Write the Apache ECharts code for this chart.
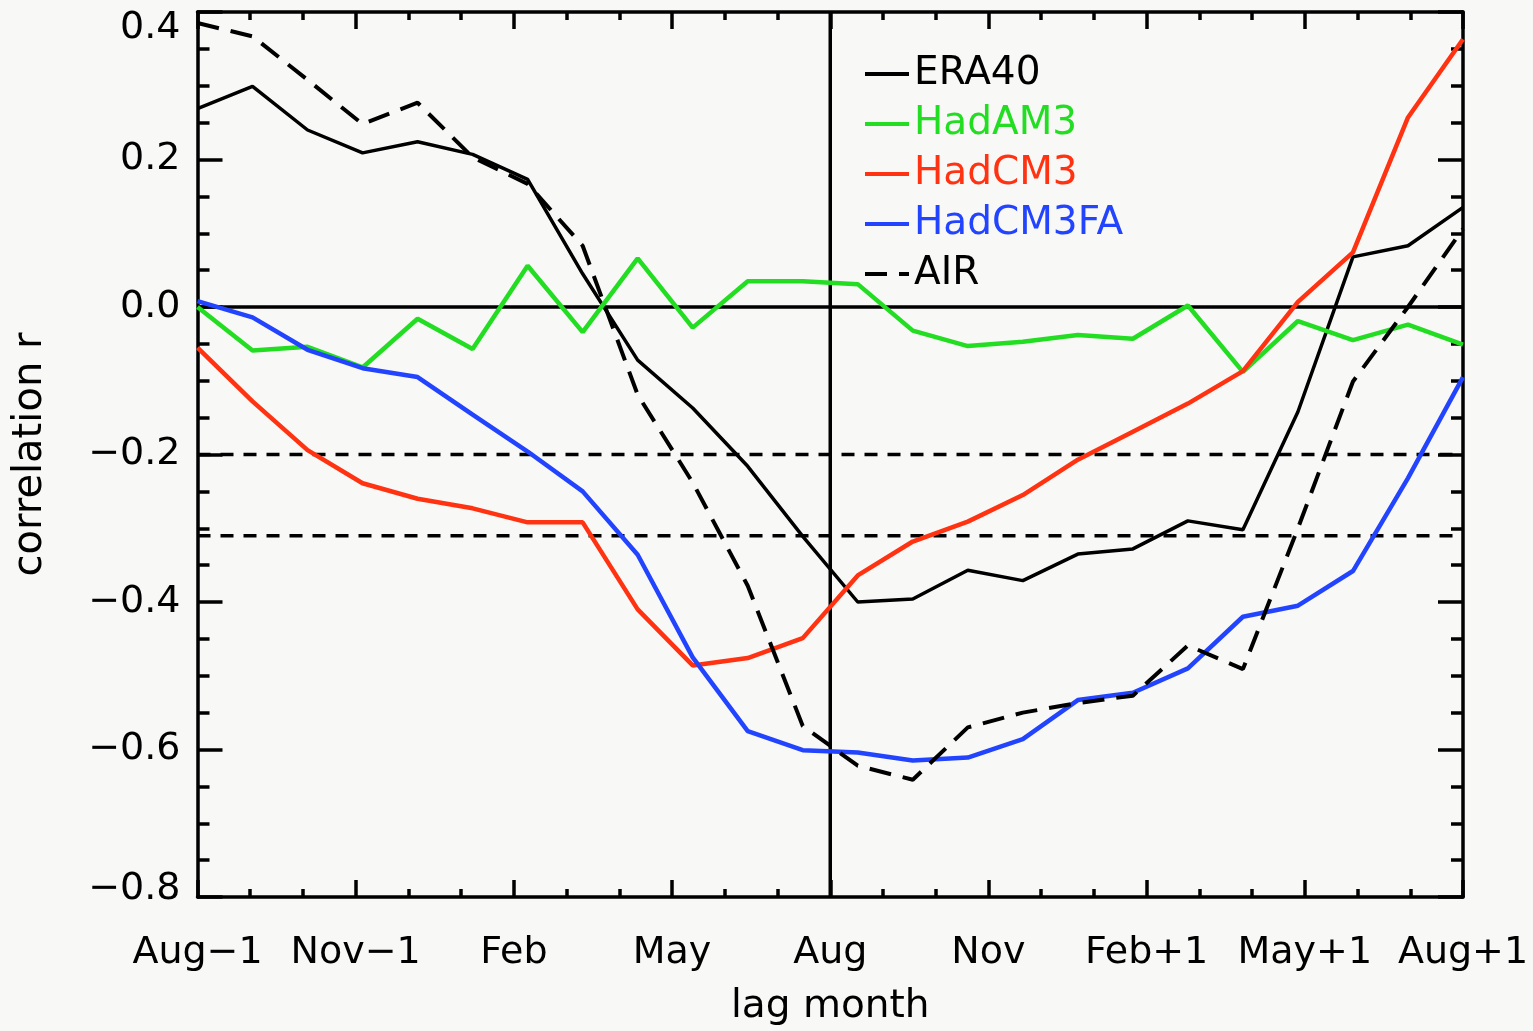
<!DOCTYPE html>
<html>
<head>
<meta charset="utf-8">
<script src="https://cdn.jsdelivr.net/npm/echarts@6/dist/echarts.min.js"></script>
<style>
  html, body { margin: 0; padding: 0; background: #f8f8f6; }
  #chart { width: 1533px; height: 1031px; }
</style>
</head>
<body>
<div id="chart"></div>
<script>
// ---- data ----
const lagTickLabels = ['Aug\u22121', 'Nov\u22121', 'Feb', 'May', 'Aug', 'Nov', 'Feb+1', 'May+1', 'Aug+1'];
const yTickLabels = ['\u22120.8', '\u22120.6', '\u22120.4', '\u22120.2', '0.0', '0.2', '0.4'];
const pointIndex = ['0','1','2','3','4','5','6','7','8','9','10','11','12','13','14','15','16','17','18','19','20','21','22','23'];

const era40    = [0.269, 0.299, 0.240, 0.209, 0.224, 0.207, 0.173, 0.045, -0.072, -0.137, -0.216, -0.311, -0.400, -0.396, -0.357, -0.371, -0.335, -0.328, -0.290, -0.302, -0.142, 0.068, 0.083, 0.135];
const hadam3   = [0.000, -0.059, -0.054, -0.082, -0.016, -0.057, 0.056, -0.034, 0.066, -0.028, 0.035, 0.035, 0.031, -0.032, -0.053, -0.047, -0.038, -0.043, 0.002, -0.088, -0.019, -0.045, -0.024, -0.051];
const hadcm3   = [-0.055, -0.128, -0.194, -0.239, -0.260, -0.273, -0.292, -0.292, -0.410, -0.486, -0.476, -0.449, -0.364, -0.318, -0.291, -0.255, -0.207, -0.169, -0.131, -0.087, 0.007, 0.074, 0.257, 0.363];
const hadcm3fa = [0.008, -0.014, -0.058, -0.083, -0.095, -0.146, -0.196, -0.250, -0.336, -0.475, -0.575, -0.601, -0.604, -0.615, -0.611, -0.586, -0.533, -0.523, -0.490, -0.420, -0.405, -0.358, -0.232, -0.095];
const air      = [0.385, 0.367, 0.308, 0.248, 0.277, 0.203, 0.167, 0.083, -0.119, -0.238, -0.378, -0.568, -0.622, -0.641, -0.570, -0.550, -0.537, -0.527, -0.459, -0.491, -0.300, -0.101, 0.000, 0.106];

const seriesNames = ['ERA40', 'HadAM3', 'HadCM3', 'HadCM3FA', 'AIR'];
const refLevels = [0, -0.2, -0.31];   // horizontal reference lines
const lagMarker = 12;                 // vertical line at Aug (lag 0)
const xRange = [0, 24];
const yRange = [-0.8, 0.4];

// ---- styles ----
const FONT = 'DejaVu Sans';
const colors = { ERA40: '#000000', HadAM3: '#22dd22', HadCM3: '#ff3311', HadCM3FA: '#2244ff', AIR: '#000000' };
const AXW = 3.5;

const chart = echarts.init(document.getElementById('chart'), null, { renderer: 'canvas' });

function xAxisCfg(extra) {
  return Object.assign({
    type: 'value', gridIndex: 0, min: xRange[0], max: xRange[1], interval: 3,
    axisLine: { show: true, onZero: false, lineStyle: { color: '#000', width: AXW } },
    axisTick: { show: true, inside: true, length: 17, lineStyle: { color: '#000', width: AXW } },
    minorTick: { show: true, splitNumber: 3, length: 8, lineStyle: { color: '#000', width: AXW } },
    splitLine: { show: false },
    minorSplitLine: { show: false }
  }, extra);
}
function yAxisCfg(extra) {
  return Object.assign({
    type: 'value', gridIndex: 0, min: yRange[0], max: yRange[1], interval: 0.2,
    axisLine: { show: true, onZero: false, lineStyle: { color: '#000', width: AXW } },
    axisTick: { show: true, inside: true, length: 25, lineStyle: { color: '#000', width: AXW } },
    minorTick: { show: true, splitNumber: 4, length: 12, lineStyle: { color: '#000', width: AXW } },
    splitLine: { show: false },
    minorSplitLine: { show: false }
  }, extra);
}

function refSeries(data, type) {
  return {
    type: 'line', xAxisIndex: 0, yAxisIndex: 0, data: data,
    symbol: 'none', silent: true, z: 1, animation: false,
    lineStyle: { color: '#000', width: 3.5, type: type },
    emphasis: { disabled: true }, tooltip: { show: false }
  };
}

const refLineSeries = [];
refLevels.forEach(function (lv) {
  refLineSeries.push(refSeries([[xRange[0], lv], [xRange[1], lv]], lv === 0 ? 'solid' : [13, 10]));
});
refLineSeries.push(refSeries([[lagMarker, yRange[0]], [lagMarker, yRange[1]]], 'solid'));

const dataSets = [era40, hadam3, hadcm3, hadcm3fa, air];
const dataSeries = seriesNames.map(function (name, i) {
  const isAir = name === 'AIR';
  const isEra = name === 'ERA40';
  return {
    name: name, type: 'line', xAxisIndex: 1, yAxisIndex: 0,
    data: dataSets[i], symbol: 'none', z: 3,
    lineStyle: { color: colors[name], width: isAir ? 4 : (isEra ? 3.5 : 4.5), type: isAir ? [22, 12] : 'solid' },
    itemStyle: { color: colors[name] },
    emphasis: { disabled: true }
  };
});

chart.setOption({
  animation: false,
  backgroundColor: '#f8f8f6',
  grid: { left: 197.5, right: 70, top: 12, bottom: 129.5, containLabel: false },
  legend: {
    orient: 'vertical', left: 863, top: 54, padding: 0,
    itemWidth: 44, itemHeight: 14, itemGap: 10,
    selectedMode: false,
    itemStyle: { color: 'transparent', borderColor: 'transparent', borderWidth: 0, opacity: 0 },
    lineStyle: { width: 4 },
    textStyle: { fontFamily: FONT, fontSize: 39, lineHeight: 40 },
    data: seriesNames.map(function (n) { return { name: n, textStyle: { color: colors[n] } }; })
  },
  xAxis: [
    xAxisCfg({
      position: 'bottom',
      name: 'lag month', nameLocation: 'middle', nameGap: 90,
      nameTextStyle: { fontFamily: FONT, fontSize: 39, color: '#000' },
      axisLabel: {
        show: true, margin: 37, fontFamily: FONT, fontSize: 38, color: '#000',
        showMinLabel: true, showMaxLabel: true,
        formatter: function (v) { return lagTickLabels[Math.round(v / 3)]; }
      }
    }),
    { type: 'category', gridIndex: 0, position: 'bottom', data: pointIndex, boundaryGap: false, show: false },
    xAxisCfg({ position: 'top', axisLabel: { show: false } })
  ],
  yAxis: [
    yAxisCfg({
      position: 'left',
      name: 'correlation r', nameLocation: 'middle', nameGap: 147, nameRotate: 90,
      nameTextStyle: { fontFamily: FONT, fontSize: 40, color: '#000' },
      axisLabel: {
        show: true, margin: 17, fontFamily: FONT, fontSize: 38, color: '#000',
        showMinLabel: true, showMaxLabel: true,
        formatter: function (v, idx) {
          const s = yTickLabels[Math.round((v - yRange[0]) / 0.2)];
          if (Math.abs(v - yRange[1]) < 1e-6) return '{top|' + s + '}';
          if (Math.abs(v - yRange[0]) < 1e-6) return '{bot|' + s + '}';
          return s;
        },
        rich: {
          top: { fontFamily: FONT, fontSize: 38, color: '#000', padding: [32, 0, 0, 0] },
          bot: { fontFamily: FONT, fontSize: 38, color: '#000', padding: [0, 0, 16, 0] }
        }
      }
    }),
    yAxisCfg({ position: 'right', axisLabel: { show: false } })
  ],
  series: refLineSeries.concat(dataSeries)
});
</script>
</body>
</html>
